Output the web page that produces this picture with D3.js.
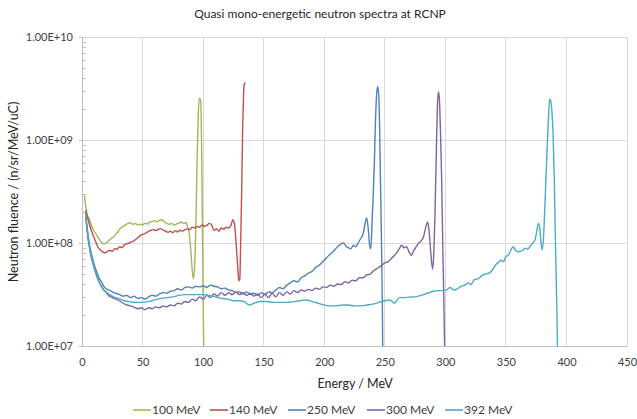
<!DOCTYPE html>
<html><head><meta charset="utf-8">
<script src="https://cdn.jsdelivr.net/npm/d3@7"></script>
<style>body{margin:0;background:#fff}svg{display:block;font-family:Lato,"Open Sans",sans-serif}</style>
</head><body>
<script>
const title = "Quasi mono-energetic neutron spectra at RCNP";
const xLabel = "Energy  / MeV";
const yLabel = "Neutron fluence / (n/sr/MeV/uC)";
const xTicks = [0,50,100,150,200,250,300,350,400,450];
const yTicks = [1e7,1e8,1e9,1e10];
const seriesNames = ["100 MeV","140 MeV","250 MeV","300 MeV","392 MeV"];
const seriesColors = ["#9bbb59","#c0504d","#4f81bd","#8064a2","#4bacc6"];

const s100 = [[2,2.9e8],[3,2.3e8],[4,1.95e8],[6,1.7e8],[8,1.45e8],[10,1.3e8],[12,1.2e8],[14,1.1e8],[16,1.02e8],[18,9.8e7],[20,1.0e8],[22,1.05e8],[24,1.1e8],[26,1.15e8],[28,1.22e8],[30,1.3e8],[32,1.4e8],[34,1.45e8],[36,1.5e8],[38,1.55e8],[40,1.57e8],[42,1.52e8],[44,1.55e8],[46,1.5e8],[48,1.52e8],[50,1.5e8],[52,1.55e8],[54,1.53e8],[56,1.6e8],[58,1.62e8],[60,1.65e8],[62,1.6e8],[64,1.66e8],[66,1.68e8],[68,1.6e8],[70,1.55e8],[72,1.52e8],[74,1.55e8],[76,1.5e8],[78,1.53e8],[80,1.56e8],[82,1.6e8],[84,1.55e8],[86,1.58e8],[87,1.45e8],[88.5,1.25e8],[90,8e7],[91,5.5e7],[92,4.5e7],[93,6e7],[94,1.5e8],[95,6e8],[96,1.8e9],[97,2.55e9],[98,2.4e9],[98.8,8e8],[99.5,1.3e8],[100,3e7],[100.8,5e6]];
const s140 = [[3,2.1e8],[5,1.7e8],[7,1.4e8],[9,1.2e8],[11,1.05e8],[13,9.2e7],[15,8.6e7],[17,8.2e7],[19,8.0e7],[21,8.3e7],[23,8.5e7],[25,8.3e7],[27,8.8e7],[29,8.7e7],[31,9.2e7],[33,9.0e7],[35,9.6e7],[37,9.8e7],[39,1.0e8],[41,1.03e8],[43,1.05e8],[45,1.1e8],[47,1.15e8],[49,1.2e8],[51,1.22e8],[53,1.25e8],[55,1.3e8],[57,1.33e8],[59,1.35e8],[61,1.32e8],[63,1.36e8],[65,1.38e8],[67,1.33e8],[69,1.3e8],[71,1.27e8],[73,1.3e8],[75,1.26e8],[77,1.32e8],[79,1.28e8],[81,1.33e8],[83,1.3e8],[85,1.35e8],[87,1.37e8],[89,1.35e8],[91,1.42e8],[93,1.4e8],[95,1.45e8],[97,1.42e8],[99,1.5e8],[101,1.45e8],[103,1.48e8],[105,1.55e8],[107,1.5e8],[109,1.32e8],[111,1.38e8],[113,1.3e8],[115,1.4e8],[117,1.36e8],[119,1.42e8],[121,1.4e8],[123,1.48e8],[124.5,1.68e8],[125.5,1.6e8],[126.5,1.3e8],[127.5,9e7],[128.5,6e7],[129.5,4.3e7],[130.3,4.5e7],[131,1e8],[131.8,3e8],[132.6,1.2e9],[133.4,2.8e9],[134,3.5e9],[135,3.6e9]];
const s250 = [[3,1.95e8],[4,1.5e8],[5,1.2e8],[6.5,9.2e7],[8,7.6e7],[10,6.2e7],[12,5.3e7],[14,4.6e7],[16,4.2e7],[18,3.8e7],[20,3.6e7],[22,3.5e7],[25,3.35e7],[28,3.25e7],[31,3.15e7],[34,3.05e7],[37,3.1e7],[40,2.95e7],[43,3.05e7],[46,2.9e7],[49,2.95e7],[52,2.85e7],[55,3.0e7],[58,3.1e7],[61,3.05e7],[64,3.2e7],[67,3.3e7],[70,3.25e7],[73,3.4e7],[76,3.45e7],[79,3.6e7],[82,3.5e7],[85,3.7e7],[88,3.75e7],[91,3.65e7],[94,3.8e7],[97,3.75e7],[100,3.85e7],[103,3.7e7],[106,3.9e7],[109,3.8e7],[112,3.75e7],[115,3.6e7],[118,3.65e7],[121,3.5e7],[124,3.45e7],[127,3.3e7],[130,3.35e7],[133,3.2e7],[136,3.35e7],[139,3.15e7],[142,3.25e7],[145,3.1e7],[148,3.3e7],[151,3.15e7],[154,3.35e7],[157,3.3e7],[160,3.5e7],[163,3.7e7],[166,3.6e7],[169,3.9e7],[172,4.1e7],[175,4.3e7],[178,4.2e7],[181,4.6e7],[184,4.8e7],[187,5.1e7],[190,5.3e7],[193,5.8e7],[196,6.1e7],[199,6.6e7],[202,7.2e7],[205,7.8e7],[208,8.4e7],[211,9.2e7],[214,9.8e7],[216,1.0e8],[218,9.3e7],[220,9.0e7],[222,8.8e7],[224,9.5e7],[226,9.2e7],[228,1.0e8],[230,1.1e8],[232,1.22e8],[234,1.6e8],[235,1.75e8],[236.3,1.4e8],[237.5,9.5e7],[238.5,8.8e7],[239.5,1.6e8],[240.5,3.0e8],[241.4,6e8],[242.3,1.5e9],[243.3,2.8e9],[244,3.3e9],[245,2.8e9],[245.8,1.2e9],[246.5,3.5e8],[247.3,1e8],[248,2.5e7],[248.5,5e6]];
const s300 = [[3,1.8e8],[4,1.4e8],[5,1.1e8],[6.5,8.5e7],[8,7e7],[10,5.8e7],[12,4.9e7],[14,4.2e7],[16,3.8e7],[18,3.5e7],[20,3.3e7],[22,3.1e7],[25,2.95e7],[28,2.85e7],[31,2.75e7],[34,2.6e7],[37,2.5e7],[40,2.45e7],[43,2.38e7],[46,2.3e7],[49,2.35e7],[52,2.25e7],[55,2.35e7],[58,2.3e7],[61,2.4e7],[64,2.35e7],[67,2.45e7],[70,2.4e7],[73,2.5e7],[76,2.45e7],[79,2.6e7],[82,2.55e7],[85,2.7e7],[88,2.65e7],[91,2.85e7],[94,2.75e7],[97,3.0e7],[100,2.85e7],[103,3.1e7],[106,2.95e7],[109,3.2e7],[112,3.05e7],[115,3.3e7],[118,3.1e7],[121,3.3e7],[124,3.15e7],[127,3.35e7],[130,3.15e7],[133,3.3e7],[136,3.1e7],[139,3.25e7],[142,3.05e7],[145,3.2e7],[148,2.95e7],[151,3.2e7],[154,2.95e7],[157,3.25e7],[160,3.0e7],[163,3.3e7],[166,3.1e7],[169,3.35e7],[172,3.2e7],[175,3.45e7],[178,3.3e7],[181,3.5e7],[184,3.4e7],[187,3.55e7],[190,3.45e7],[193,3.65e7],[196,3.55e7],[199,3.75e7],[202,3.7e7],[205,3.9e7],[208,3.8e7],[211,4.0e7],[214,3.95e7],[217,4.2e7],[220,4.1e7],[223,4.35e7],[226,4.3e7],[229,4.6e7],[232,4.6e7],[235,4.9e7],[238,5.0e7],[241,5.4e7],[244,5.7e7],[247,6.0e7],[250,6.4e7],[253,6.6e7],[256,7.2e7],[259,7.8e7],[262,8.8e7],[264,9.5e7],[266,9.0e7],[268,9.2e7],[270,8.2e7],[272,7.6e7],[274,8.5e7],[276,9.2e7],[278,1.0e8],[280,1.05e8],[282,1.15e8],[284,1.45e8],[285.3,1.6e8],[286.5,1.35e8],[288,8e7],[289.5,5.6e7],[290.5,8e7],[291.5,2e8],[292.5,7e8],[293.5,2.2e9],[294.2,2.95e9],[295,2.6e9],[296,1.2e9],[297,4e8],[298,8e7],[299,2e7],[299.8,5e6]];
const s392 = [[3,1.9e8],[4,1.45e8],[5,1.15e8],[6.5,8.8e7],[8,7.2e7],[10,5.8e7],[12,4.8e7],[14,4.2e7],[16,3.8e7],[18,3.5e7],[20,3.35e7],[23,3.15e7],[26,3.0e7],[30,2.9e7],[35,2.75e7],[40,2.68e7],[45,2.65e7],[50,2.65e7],[55,2.7e7],[60,2.8e7],[65,2.9e7],[70,2.95e7],[75,3.0e7],[80,3.1e7],[85,3.15e7],[90,3.15e7],[95,3.15e7],[100,3.15e7],[105,3.1e7],[110,3.0e7],[115,2.9e7],[120,2.85e7],[125,2.75e7],[130,2.75e7],[134,2.7e7],[138,2.5e7],[142,2.6e7],[147,2.7e7],[152,2.7e7],[158,2.65e7],[165,2.65e7],[170,2.65e7],[175,2.7e7],[180,2.75e7],[185,2.8e7],[190,2.7e7],[195,2.6e7],[200,2.5e7],[205,2.45e7],[210,2.45e7],[215,2.5e7],[220,2.5e7],[225,2.45e7],[230,2.45e7],[235,2.5e7],[240,2.55e7],[245,2.65e7],[250,2.75e7],[254,2.8e7],[258,2.6e7],[262,2.95e7],[266,2.95e7],[270,2.98e7],[275,3.0e7],[280,3.1e7],[285,3.25e7],[290,3.4e7],[295,3.45e7],[298,3.45e7],[301,3.5e7],[304,3.7e7],[307,3.5e7],[310,3.6e7],[313,3.8e7],[316,3.9e7],[319,4.1e7],[321,3.95e7],[324,4.4e7],[327,4.5e7],[330,4.8e7],[333,5.0e7],[336,5.1e7],[339,5.5e7],[342,6.2e7],[344,6.5e7],[346,6.8e7],[348,6.6e7],[350,7.4e7],[352,7.6e7],[354,8.5e7],[356,9.2e7],[358,8.5e7],[360,8.2e7],[362,8.3e7],[364,8.5e7],[366,8.9e7],[368,8.7e7],[370,9.3e7],[372,1.0e8],[374,1.07e8],[375.5,1.3e8],[376.8,1.55e8],[378,1.4e8],[379,1.0e8],[380,8.6e7],[381,1.1e8],[382,2.0e8],[383,4e8],[384,8e8],[385,1.5e9],[386.2,2.5e9],[387,2.4e9],[388,1.9e9],[389,1.1e9],[390,4e8],[391,9e7],[392,2.5e7],[393,5e6]];
const seriesData = [s100,s140,s250,s300,s392];

const W = 637, H = 419;
const m = {l:82, r:10, t:37, b:73};
const svg = d3.select("body").append("svg").attr("width",W).attr("height",H);
const x = d3.scaleLinear().domain([0,450]).range([m.l, W-m.r]);
const y = d3.scaleLog().domain([1e7,1e10]).range([H-m.b, m.t]);

svg.append("defs").append("clipPath").attr("id","clip")
  .append("rect").attr("x",m.l).attr("y",m.t).attr("width",W-m.l-m.r).attr("height",H-m.t-m.b);

// gridlines
const g = svg.append("g");
g.selectAll(".vg").data(xTicks.slice(1)).join("line")
  .attr("x1",d=>x(d)).attr("x2",d=>x(d)).attr("y1",m.t).attr("y2",H-m.b)
  .attr("stroke","#d9d9d9").attr("stroke-width",1).attr("shape-rendering","crispEdges");
g.selectAll(".hg").data(yTicks.slice(1)).join("line")
  .attr("x1",m.l).attr("x2",W-m.r).attr("y1",d=>y(d)).attr("y2",d=>y(d))
  .attr("stroke","#d9d9d9").attr("stroke-width",1).attr("shape-rendering","crispEdges");

// axes
const xAxis = svg.append("g").attr("transform",`translate(0,${H-m.b})`)
  .call(d3.axisBottom(x).tickValues(xTicks).tickSize(0).tickPadding(12).tickFormat(d3.format("d")));
xAxis.select(".domain").attr("stroke","#bfbfbf");
xAxis.selectAll("text").attr("font-size",11).attr("fill","#404040").attr("font-family","Lato");

const minor = [];
for (let e=7;e<10;e++) for (let k=2;k<10;k++) minor.push(k*Math.pow(10,e));
svg.append("g").selectAll("line").data(minor).join("line")
  .attr("x1",m.l).attr("x2",m.l+4).attr("y1",d=>Math.round(y(d))+0.5).attr("y2",d=>Math.round(y(d))+0.5)
  .attr("stroke","#bfbfbf");
const yAxis = svg.append("g").attr("transform",`translate(${m.l},0)`)
  .call(d3.axisLeft(y).tickValues(yTicks).tickSize(3).tickPadding(6).tickFormat(d=>d.toExponential(2).toUpperCase().replace(/E\+(\d)$/,"E+0$1")));
yAxis.select(".domain").attr("stroke","#bfbfbf");
yAxis.selectAll(".tick line").attr("stroke","#bfbfbf");
yAxis.selectAll("text").attr("font-size",11).attr("fill","#404040").attr("font-family","Lato");

// lines
const line = d3.line().x(d=>x(d[0])).y(d=>y(d[1])).curve(d3.curveMonotoneX);
svg.append("g").attr("clip-path","url(#clip)").selectAll("path").data(seriesData).join("path")
  .attr("d",line).attr("fill","none").attr("stroke",(d,i)=>seriesColors[i])
  .attr("stroke-width",1.4).attr("stroke-linejoin","round");

// titles
svg.append("text").attr("x",320).attr("y",18).attr("text-anchor","middle")
  .attr("font-size",12).attr("fill","#262626").text(title);
svg.append("text").attr("x",355).attr("y",388).attr("text-anchor","middle")
  .attr("font-size",12.5).attr("fill","#262626").text(xLabel);
svg.append("text").attr("transform","translate(18,192) rotate(-90)").attr("text-anchor","middle")
  .attr("font-size",12.5).attr("fill","#262626").text(yLabel);

// legend
const legX = [133,210,288,367,445];
const leg = svg.append("g").selectAll("g").data(seriesNames).join("g")
  .attr("transform",(d,i)=>`translate(${legX[i]},410)`);
leg.append("line").attr("x1",0).attr("x2",18).attr("y1",0).attr("y2",0)
  .attr("stroke",(d,i)=>seriesColors[i]).attr("stroke-width",1.6);
leg.append("text").attr("x",19).attr("y",4).attr("font-size",12).attr("fill","#404040").text(d=>d);
</script>
</body></html>
